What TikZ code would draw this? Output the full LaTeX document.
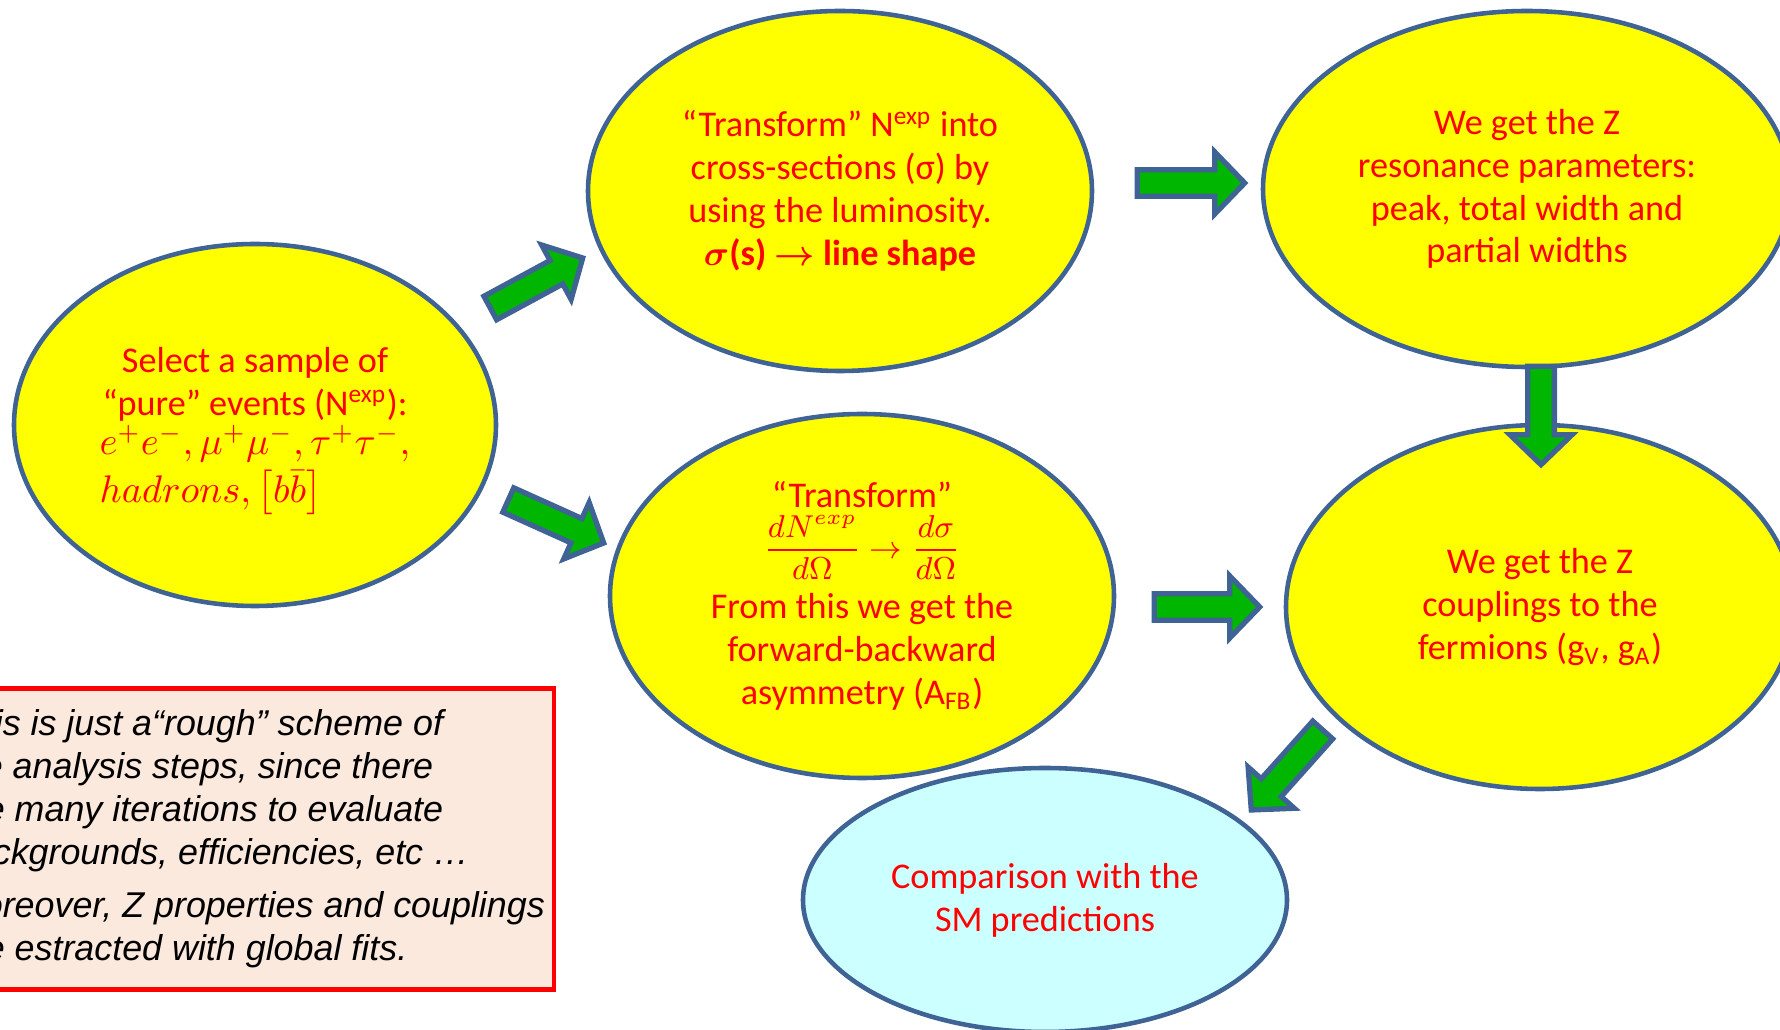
\documentclass[tikz,border=0pt]{standalone}
\usepackage{amsmath}
\usepackage{amssymb}
\usepackage{fontspec}
\setmainfont{Carlito}
\newfontfamily\notefont{Liberation Sans}
\usepackage{tikz}
\usetikzlibrary{shapes.geometric}
\usetikzlibrary{calc}
\definecolor{rim}{RGB}{62,99,148}
\definecolor{lemon}{RGB}{255,255,0}
\definecolor{leaf}{RGB}{0,182,0}
\definecolor{ice}{RGB}{204,255,255}
\definecolor{peach}{RGB}{252,233,221}
\definecolor{redtext}{RGB}{255,0,0}
\tikzset{every picture/.style={line width=1.3pt},
  bubble/.style={ellipse, draw=rim, fill=lemon, inner sep=0pt, align=center, text=redtext,
    font=\fontsize{10.3}{12.2}\selectfont, minimum width=5.04cm, minimum height=3.62cm},
  fatarrow/.style={draw=rim, fill=leaf, line width=1.5pt, line join=miter,
    to path={let \p1=(\tikztostart), \p2=(\tikztotarget),
      \n1={atan2(\y2-\y1,\x2-\x1)}, \n2={veclen(\x2-\x1,\y2-\y1)-8.5} in
      ($(\p1)+({\n1+90}:3.8pt)$) -- ($(\p1)+(\n1:\n2)+({\n1+90}:3.8pt)$)
      -- ($(\p1)+(\n1:\n2)+({\n1+90}:8.8pt)$) -- (\p2)
      -- ($(\p1)+(\n1:\n2)+({\n1-90}:8.8pt)$) -- ($(\p1)+(\n1:\n2)+({\n1-90}:3.8pt)$)
      -- ($(\p1)+({\n1-90}:3.8pt)$) -- cycle}}}

\begin{document}
\begin{tikzpicture}
\useasboundingbox (0,0) rectangle (17.8,10.3);
% the steps of the analysis
\node (sel) [bubble, minimum width=4.82cm] at (2.55,6.05) {\rule{0pt}{3.9mm}Select a sample of\\ “pure” events (N\textsuperscript{exp}):\\[-1pt]
  {\fontsize{10.6}{13.6}\selectfont\begin{tabular}{@{}l@{}}$e^+e^-,\mu^+\mu^-,\tau^+\tau^-,$\\ $hadrons,\left[b\bar{b}\right]$\end{tabular}}};
\node (xsec) [bubble, minimum height=3.60cm] at (8.40,8.39) {“Transform” N\textsuperscript{exp} into\\ cross-sections (σ) by\\ using the luminosity.\\ {\bfseries\boldmath$\sigma$(s) $\rightarrow$ line shape}};
\node (zres) [bubble, minimum width=5.28cm, minimum height=3.56cm] at (15.27,8.41) {We get the Z\\ resonance parameters:\\ peak, total width and\\ partial widths};
\node (dsig) [bubble, minimum height=3.64cm] at (8.62,4.34) {“Transform”\\[1pt] {\fontsize{9}{11}\selectfont$\displaystyle\frac{dN^{exp}}{d\Omega}\rightarrow\frac{d\sigma}{d\Omega}$}\\[3pt] From this we get the\\ forward-backward\\ asymmetry (A\textsubscript{FB})};
\node (coup) [bubble, minimum width=5.08cm, minimum height=3.64cm] at (15.40,4.23) {We get the Z\\ couplings to the\\ fermions (g\textsubscript{V}, g\textsubscript{A})};
\node (comp) [bubble, fill=ice, minimum width=4.84cm, minimum height=2.64cm] at (10.45,1.30) {Comparison with the\\ SM predictions};
% remark
\node (note) [draw=red, fill=peach, line width=1.25pt, anchor=east, align=left, inner xsep=0.09cm, minimum height=3.01cm,
  font=\notefont\itshape\fontsize{10.2}{12.2}\selectfont] at (5.56,1.91) {This is just a“rough” scheme of\\ the analysis steps, since there\\ are many iterations to evaluate\\ backgrounds, efficiencies, etc …\\[3pt] Moreover, Z properties and couplings\\ are estracted with global fits.};
% block arrows
\draw [fatarrow] ($(sel.east)+(-0.08,1.17)$) to ($(xsec.west)+(-0.03,-0.67)$);
\draw [fatarrow] ($(sel.east)+(0.10,-0.75)$) to ($(dsig.west)+(-0.04,0.53)$);
\draw [fatarrow] ($(xsec.east)+(0.43,0.08)$) to ($(zres.west)+(-0.16,0.06)$);
\draw [fatarrow] ($(dsig.east)+(0.38,-0.11)$) to ($(coup.west)+(-0.24,0)$);
\draw [fatarrow] ($(zres.south)+(0.14,0.03)$) to ($(coup.north)+(0.01,-0.42)$);
\draw [fatarrow] ($(coup.west)+(0.39,-1.23)$) to ($(comp.east)+(-0.38,0.90)$);
\end{tikzpicture}
\end{document}
